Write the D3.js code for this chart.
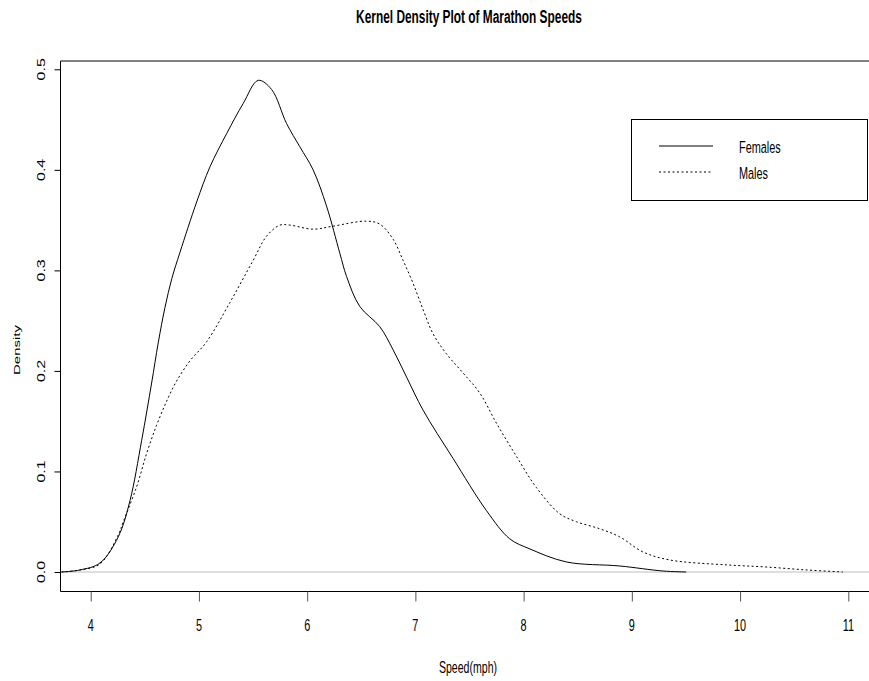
<!DOCTYPE html>
<html><head><meta charset="utf-8">
<script src="https://cdn.jsdelivr.net/npm/d3@7"></script>
<style>body{margin:0;background:#fff}svg{display:block}text{font-family:"Liberation Sans",Arial,Helvetica,sans-serif;fill:#000}</style>
</head><body>
<script>
// ---- data ----
const femaleSpeed = [3.73,3.90,4.086,4.255,4.363,4.471,4.563,4.624,4.686,4.750,4.825,4.979,5.102,5.256,5.409,5.548,5.671,5.810,5.932,6.055,6.179,6.302,6.364,6.487,6.671,6.794,6.918,7.071,7.348,7.657,7.872,8.057,8.395,8.887,9.287,9.503];
const femaleDensity = [0,0.002,0.009,0.035,0.071,0.131,0.188,0.228,0.263,0.292,0.318,0.368,0.403,0.436,0.466,0.489,0.480,0.446,0.423,0.400,0.364,0.317,0.294,0.264,0.244,0.221,0.194,0.161,0.113,0.061,0.033,0.023,0.010,0.006,0.001,0.000];
const maleSpeed = [3.73,3.90,4.086,4.255,4.301,4.425,4.517,4.609,4.702,4.794,4.917,5.071,5.286,5.501,5.625,5.748,5.840,6.055,6.240,6.548,6.671,6.794,6.886,6.979,7.071,7.163,7.287,7.440,7.595,7.749,7.934,8.118,8.333,8.488,8.703,8.887,9.102,9.349,9.887,10.24,10.62,10.95];
const maleDensity = [0,0.002,0.008,0.037,0.050,0.085,0.118,0.146,0.170,0.190,0.210,0.229,0.268,0.310,0.334,0.345,0.345,0.341,0.344,0.349,0.346,0.331,0.310,0.287,0.261,0.237,0.217,0.198,0.178,0.148,0.115,0.084,0.058,0.050,0.043,0.035,0.020,0.012,0.007,0.005,0.002,0.000];
const xTicks = [4,5,6,7,8,9,10,11];
const yTicks = [0,0.1,0.2,0.3,0.4,0.5];
const yTickLabels = ["0.0","0.1","0.2","0.3","0.4","0.5"];
const seriesNames = ["Females","Males"];
const titleText = "Kernel Density Plot of Marathon Speeds";
const xLabel = "Speed(mph)", yLabel = "Density";

// ---- layout ----
const W = 869, H = 681, SX = 0.66;
const svg = d3.select("body").append("svg").attr("width", W).attr("height", H);
const x = d3.scaleLinear().domain([4, 11]).range([90.7, 848.3]);
const y = d3.scaleLinear().domain([0, 0.5]).range([572, 69.3]);
const box = {l: 60.5, t: 61, r: 870, b: 591.5};

function txt(xp, yp, s, size, opts = {}) {
  const t = svg.append("text").text(s)
    .attr("font-size", size)
    .attr("font-weight", opts.bold ? "bold" : "normal")
    .attr("text-anchor", "middle")
    .attr("transform", `translate(${xp},${yp}) scale(${SX},1)` + (opts.rot ? " rotate(-90)" : ""));
  if (opts.anchor) t.attr("text-anchor", opts.anchor);
  return t;
}

// zero line
svg.append("line").attr("x1", box.l).attr("x2", W).attr("y1", y(0)).attr("y2", y(0))
  .attr("stroke", "#bebebe").attr("stroke-width", 1);

// curves
const line = d3.line().x(d => x(d[0])).y(d => y(d[1])).curve(d3.curveCatmullRom.alpha(0.5));
svg.append("path").datum(femaleSpeed.map((v, i) => [v, femaleDensity[i]]))
  .attr("d", line).attr("fill", "none").attr("stroke", "#000").attr("stroke-width", 1);
svg.append("path").datum(maleSpeed.map((v, i) => [v, maleDensity[i]]))
  .attr("d", line).attr("fill", "none").attr("stroke", "#000").attr("stroke-width", 1)
  .attr("stroke-dasharray", "2,2.5");

// frame
svg.append("path").attr("d", `M${box.r},${box.t}H${box.l}V${box.b}H${box.r}`)
  .attr("fill", "none").attr("stroke", "#000").attr("stroke-width", 1);

// x axis
const xa = svg.append("g").attr("transform", `translate(0,${box.b})`)
  .call(d3.axisBottom(x).tickValues(xTicks).tickSize(10).tickSizeOuter(0).tickFormat(""));
xa.select(".domain").remove();
xa.selectAll(".tick line").attr("stroke", "#555");
xTicks.forEach(v => txt(x(v), 631, String(v), 16.5));

// y axis
const ya = svg.append("g").attr("transform", `translate(${box.l},0)`)
  .call(d3.axisLeft(y).tickValues(yTicks).tickSize(6).tickSizeOuter(0).tickFormat(""));
ya.select(".domain").remove();
ya.selectAll(".tick line").attr("stroke", "#000");
yTicks.forEach((v, i) => txt(45, y(v), yTickLabels[i], 16, {rot: true}));

// titles
txt(469, 23, titleText, 18, {bold: true});
txt(468, 673, xLabel, 16);
txt(20, 350, yLabel, 15, {rot: true});

// legend
const lg = {x0: 631.5, y0: 119.5, x1: 867.5, y1: 200.5};
svg.append("rect").attr("x", lg.x0).attr("y", lg.y0).attr("width", lg.x1 - lg.x0).attr("height", lg.y1 - lg.y0)
  .attr("fill", "#fff").attr("stroke", "#000").attr("stroke-width", 1);
const legY = [146, 172];
seriesNames.forEach((n, i) => {
  const l = svg.append("line").attr("x1", 659).attr("x2", 713).attr("y1", legY[i]).attr("y2", legY[i])
    .attr("stroke", "#000").attr("stroke-width", 1);
  if (i === 1) l.attr("stroke-dasharray", "2,2.5");
  txt(739, legY[i] + 6.5, n, 16.5, {anchor: "start"});
});
</script>
</body></html>
